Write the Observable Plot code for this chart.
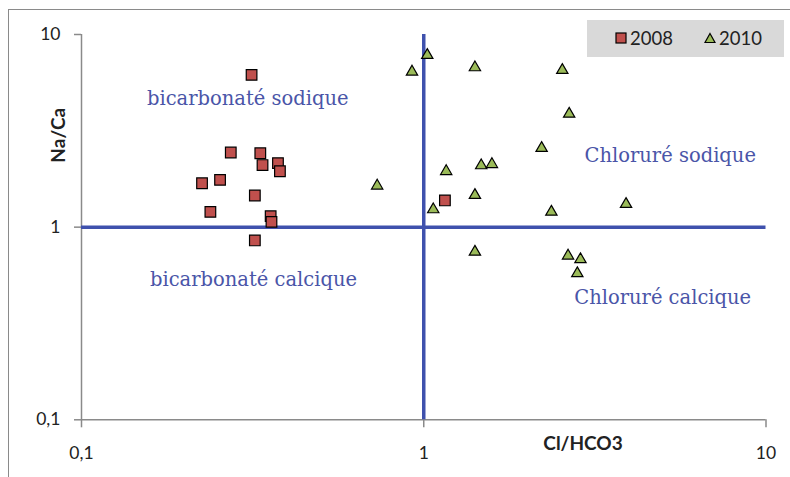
<!DOCTYPE html>
<html>
<head>
<meta charset="utf-8">
<script src="https://cdn.jsdelivr.net/npm/d3@7"></script>
<script src="https://cdn.jsdelivr.net/npm/@observablehq/plot@0.6"></script>
<style>
  html, body { margin: 0; padding: 0; background: #fff; }
  #wrap { position: relative; width: 790px; height: 477px; overflow: hidden; }
  #frame { position: absolute; left: 8px; top: 9px; width: 900px; height: 600px; border-left: 1.5px solid #8a8a8a; border-top: 1.5px solid #8a8a8a; pointer-events: none; }
  #legend { position: absolute; left: 587px; top: 20px; width: 197px; height: 37px; background: #d9d9d9; font-family: Lato, "Open Sans", sans-serif; font-size: 18.5px; color: #222; }
  #legend .item { position: absolute; top: 8px; display: flex; align-items: center; }
  #chart { position: absolute; left: 0; top: 0; }
</style>
</head>
<body>
<div id="wrap">
  <div id="chart"></div>
  <div id="frame"></div>
  <div id="legend"></div>
</div>
<script>
// Data (Cl/HCO3 vs Na/Ca)
const x2008 = [0.314, 0.273, 0.333, 0.338, 0.375, 0.380, 0.225, 0.254, 0.321, 0.238, 0.357, 0.359, 0.321, 1.153];
const y2008 = [6.17, 2.44, 2.42, 2.10, 2.15, 1.95, 1.69, 1.76, 1.46, 1.20, 1.14, 1.065, 0.853, 1.376];
const x2010 = [0.731, 0.924, 1.024, 1.411, 2.54, 2.66, 2.21, 1.163, 1.472, 1.582, 1.411, 1.066, 2.36, 3.90, 1.411, 2.64, 2.87, 2.81];
const y2010 = [1.64, 6.40, 7.81, 6.74, 6.53, 3.87, 2.57, 1.95, 2.09, 2.12, 1.466, 1.235, 1.20, 1.316, 0.744, 0.71, 0.68, 0.575];
const seriesNames = ["2008", "2010"];
const tickValues = [0.1, 1, 10];
const xTitle = "Cl/HCO3";
const yTitle = "Na/Ca";
const zoneLabels = ["bicarbonaté sodique", "Chloruré sodique", "bicarbonaté calcique", "Chloruré calcique"];
const zoneX = [0.306, 5.25, 0.318, 4.99];
const zoneY = [4.62, 2.36, 0.535, 0.43];

const d2008 = x2008.map((x, i) => ({x, y: y2008[i]}));
const d2010 = x2010.map((x, i) => ({x, y: y2010[i]}));
const zones = zoneLabels.map((t, i) => ({t, x: zoneX[i], y: zoneY[i]}));

const fmt = d => String(d).replace(".", ",");
const axisGray = "#8a8a8a";
const blue = "#3f51ad";
const red = "#c0504d";
const green = "#9bbb59";
const sans = "Lato, 'Open Sans', sans-serif";

const chart = Plot.plot({
  width: 790,
  height: 477,
  marginLeft: 81,
  marginRight: 24.5,
  marginTop: 34,
  marginBottom: 57.7,
  style: {fontFamily: sans, fontSize: "17.5px", background: "transparent", overflow: "visible"},
  x: {type: "log", domain: [0.1, 10]},
  y: {type: "log", domain: [0.1, 10]},
  marks: [
    Plot.ruleX([0.1], {stroke: axisGray, strokeWidth: 1.5}),
    Plot.ruleY([0.1], {stroke: axisGray, strokeWidth: 1.5}),
    Plot.axisX(tickValues, {tickSize: 8, tickPadding: 19, tickFormat: fmt, fontSize: 17.5, stroke: axisGray, strokeWidth: 1.5, fill: "#222", label: null}),
    Plot.axisY(tickValues, {tickSize: 7, tickPadding: 14, tickFormat: fmt, fontSize: 17.5, stroke: axisGray, strokeWidth: 1.5, fill: "#222", label: null}),
    Plot.ruleX([1], {y1: 0.1, y2: 10, stroke: blue, strokeWidth: 3.5}),
    Plot.ruleY([1], {x1: 0.1, x2: 10, stroke: blue, strokeWidth: 3.5}),
    Plot.text(zones, {x: "x", y: "y", text: "t", fill: "#4a55a8", fontSize: 19.5, fontFamily: "'DejaVu Serif', serif"}),
    Plot.dot(d2008, {x: "x", y: "y", symbol: "square", r: 6, fill: red, stroke: "#000", strokeWidth: 1.2}),
    Plot.dot(d2010, {x: "x", y: "y", symbol: "triangle", r: 4.2, fill: green, stroke: "#000", strokeWidth: 1.2}),
    Plot.text([xTitle], {x: 2.92, frameAnchor: "bottom", lineAnchor: "middle", textAnchor: "middle", dy: 24, fontSize: 19, fontWeight: "bold", fill: "#222"}),
    Plot.text([yTitle], {y: 3.0, frameAnchor: "left", textAnchor: "middle", lineAnchor: "middle", dx: -23, rotate: -90, fontSize: 19, fontWeight: "bold", fill: "#222"})
  ]
});
document.getElementById("chart").appendChild(chart);

// Legend
const legend = document.getElementById("legend");
const sw = [
  `<svg width="12" height="12"><rect x="1" y="1" width="10" height="10" fill="${red}" stroke="#000" stroke-width="1.2"/></svg>`,
  `<svg width="12" height="12"><path d="M6,1.5 L11,10.5 L1,10.5 Z" fill="${green}" stroke="#000" stroke-width="1.2"/></svg>`
];
const lefts = [28, 117];
seriesNames.forEach((n, i) => {
  const it = document.createElement("div");
  it.className = "item";
  it.style.left = lefts[i] + "px";
  it.innerHTML = sw[i] + `<span style="margin-left:3px;line-height:20px">${n}</span>`;
  legend.appendChild(it);
});
</script>
</body>
</html>
